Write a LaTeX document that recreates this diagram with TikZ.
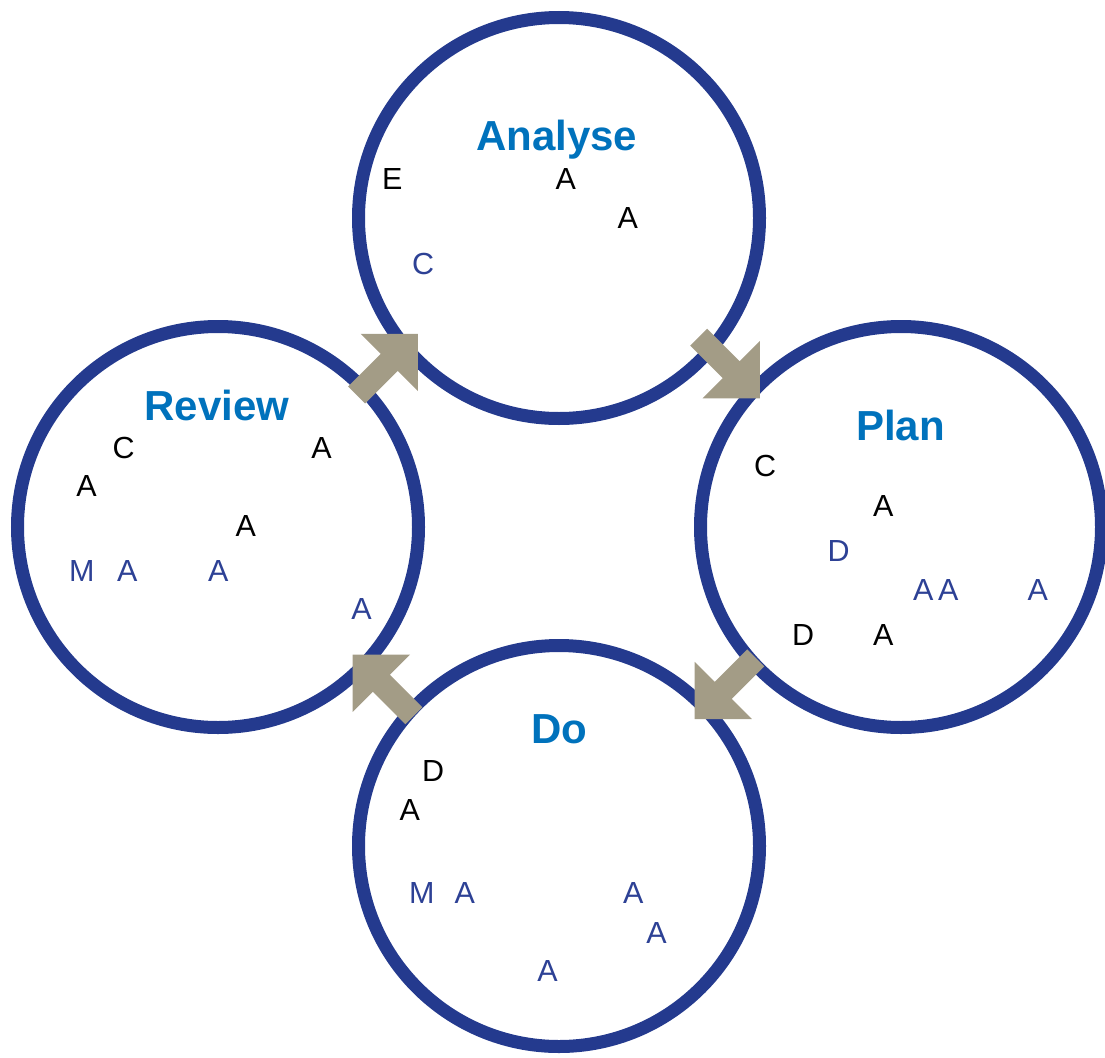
\documentclass[tikz,border=0pt]{standalone}
\usepackage{fontspec}
\setmainfont{Liberation Sans}
\definecolor{ring}{HTML}{243A8E}
\definecolor{ttl}{HTML}{0072BC}
\definecolor{arr}{HTML}{A39C86}
\definecolor{bl}{HTML}{2D4195}
\begin{document}
\begin{tikzpicture}[x=1pt,y=-1pt,
  phase/.style={circle,draw=ring,line width=13pt,minimum size=401pt,inner sep=0pt},
  ttlnode/.style={anchor=base,inner sep=0pt,text=ttl,font=\fontsize{42}{42}\selectfont\bfseries},
  lk/.style={anchor=base west,inner sep=0pt,font=\fontsize{30.5}{30.5}\selectfont},
  lb/.style={lk,text=bl},
  blockarr/.style={fill=arr}]
\useasboundingbox (0,0) rectangle (1105,1057);
% circles
\node[phase] (analyse) at (559,218) {};
\node[phase] (review) at (218,527) {};
\node[phase] (plan) at (901,527) {};
\node[phase] (do) at (559,846) {};
% block arrows
\coordinate (t1) at (356.7,395);
\coordinate (t2) at (698.7,337.2);
\coordinate (t3) at (755.8,657.9);
\coordinate (t4) at (413.9,715.8);
\fill[blockarr,shift={(t1)},rotate=45] (0,-12) -- (46,-12) -- (46,-40.5) -- (86.5,0) -- (46,40.5) -- (46,12) -- (0,12) -- cycle;
\fill[blockarr,shift={(t2)},rotate=-45] (0,-12) -- (46,-12) -- (46,-40.5) -- (86.5,0) -- (46,40.5) -- (46,12) -- (0,12) -- cycle;
\fill[blockarr,shift={(t3)},rotate=-135] (0,-12) -- (46,-12) -- (46,-40.5) -- (86.5,0) -- (46,40.5) -- (46,12) -- (0,12) -- cycle;
\fill[blockarr,shift={(t4)},rotate=135] (0,-12) -- (46,-12) -- (46,-40.5) -- (86.5,0) -- (46,40.5) -- (46,12) -- (0,12) -- cycle;
% titles
\node[ttlnode] (tanalyse) at (556.7,150.7) {Analyse};
\node[ttlnode] (tplan) at (900.5,440) {Plan};
\node[ttlnode] (treview) at (217,420) {Review};
\node[ttlnode] (tdo) at (559,743.3) {Do};
% Analyse letters
\node[lk] (a1) at (382,189.3) {E};
\node[lk] (a2) at (555.5,189.3) {A};
\node[lk] (a3) at (617.5,228.3) {A};
\node[lb] (a4) at (412,274) {C};
% Plan letters
\node[lk] (p1) at (754,476.7) {C};
\node[lk] (p2) at (873,516.7) {A};
\node[lb] (p3) at (827.5,561.7) {D};
\node[lb] (p4) at (913,600) {A};
\node[lb] (p5) at (938,600) {A};
\node[lb] (p6) at (1027.5,600) {A};
\node[lk] (p7) at (792,645.7) {D};
\node[lk] (p8) at (873,645.7) {A};
% Review letters
\node[lk] (r1) at (112.3,458.3) {C};
\node[lk] (r2) at (311.2,458.3) {A};
\node[lk] (r3) at (76.2,496.7) {A};
\node[lk] (r4) at (235.5,536) {A};
\node[lb] (r5) at (69,581) {M};
\node[lb] (r6) at (116.8,581) {A};
\node[lb] (r7) at (207.8,581) {A};
\node[lb] (r8) at (351.2,619.3) {A};
% Do letters
\node[lk] (d1) at (421.8,781) {D};
\node[lk] (d2) at (399.5,820.7) {A};
\node[lb] (d3) at (409,903.3) {M};
\node[lb] (d4) at (454.5,903.3) {A};
\node[lb] (d5) at (622.8,903.3) {A};
\node[lb] (d6) at (646.2,943.3) {A};
\node[lb] (d7) at (537.2,981) {A};
\end{tikzpicture}
\end{document}
